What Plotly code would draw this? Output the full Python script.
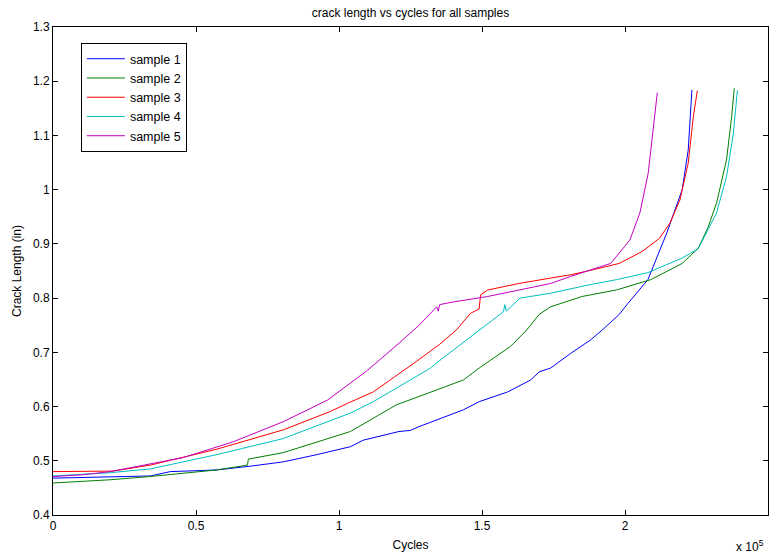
import plotly.graph_objects as go

# cycles (in units of 1e5) and crack length (in)
s1_x = [0, 0.2, 0.34, 0.41, 0.57, 0.69, 0.805, 0.92, 1.04, 1.085, 1.21, 1.25, 1.28, 1.435, 1.49, 1.59, 1.67, 1.70, 1.74, 1.81, 1.88, 1.92, 1.98, 2.01, 2.08, 2.146, 2.20, 2.221, 2.234]
s1_y = [0.468, 0.470, 0.472, 0.480, 0.483, 0.490, 0.498, 0.511, 0.526, 0.538, 0.554, 0.556, 0.563, 0.594, 0.609, 0.627, 0.649, 0.664, 0.671, 0.698, 0.723, 0.741, 0.77, 0.79, 0.834, 0.92, 1.0, 1.073, 1.184]

s2_x = [0, 0.2, 0.34, 0.57, 0.68, 0.683, 0.805, 1.04, 1.2, 1.435, 1.49, 1.60, 1.656, 1.70, 1.74, 1.85, 1.97, 2.09, 2.20, 2.256, 2.29, 2.32, 2.355, 2.373, 2.382]
s2_y = [0.459, 0.465, 0.471, 0.483, 0.492, 0.503, 0.515, 0.554, 0.603, 0.649, 0.671, 0.711, 0.741, 0.77, 0.784, 0.803, 0.815, 0.834, 0.864, 0.892, 0.93, 0.975, 1.055, 1.135, 1.187]

s3_x = [0, 0.21, 0.34, 0.57, 0.805, 0.97, 1.03, 1.12, 1.27, 1.35, 1.41, 1.46, 1.49, 1.495, 1.52, 1.63, 1.74, 1.81, 1.91, 1.98, 2.06, 2.12, 2.157, 2.192, 2.221, 2.239, 2.253]
s3_y = [0.480, 0.481, 0.492, 0.521, 0.557, 0.591, 0.606, 0.627, 0.683, 0.714, 0.741, 0.772, 0.78, 0.806, 0.815, 0.827, 0.837, 0.843, 0.855, 0.864, 0.886, 0.91, 0.938, 0.981, 1.049, 1.135, 1.183]

s4_x = [0, 0.2, 0.34, 0.57, 0.805, 0.97, 1.04, 1.12, 1.32, 1.34, 1.49, 1.575, 1.58, 1.585, 1.633, 1.74, 1.87, 1.97, 2.08, 2.20, 2.256, 2.32, 2.355, 2.379, 2.393]
s4_y = [0.472, 0.478, 0.485, 0.511, 0.541, 0.575, 0.588, 0.609, 0.671, 0.68, 0.741, 0.775, 0.788, 0.776, 0.80, 0.809, 0.824, 0.834, 0.847, 0.874, 0.891, 0.957, 1.024, 1.104, 1.183]

s5_x = [0, 0.1, 0.2, 0.34, 0.456, 0.63, 0.805, 0.96, 1.10, 1.21, 1.28, 1.342, 1.347, 1.352, 1.40, 1.52, 1.69, 1.74, 1.81, 1.91, 1.95, 2.017, 2.052, 2.081, 2.099, 2.113]
s5_y = [0.471, 0.474, 0.480, 0.494, 0.506, 0.535, 0.572, 0.612, 0.667, 0.717, 0.750, 0.784, 0.776, 0.788, 0.793, 0.803, 0.821, 0.827, 0.84, 0.858, 0.864, 0.907, 0.957, 1.03, 1.11, 1.179]

names = ["sample 1", "sample 2", "sample 3", "sample 4", "sample 5"]
colors = ["rgb(0,0,255)", "rgb(0,128,0)", "rgb(255,0,0)", "rgb(0,191,191)", "rgb(191,0,191)"]
xs = [s1_x, s2_x, s3_x, s4_x, s5_x]
ys = [s1_y, s2_y, s3_y, s4_y, s5_y]

x_ticks = [0, 0.5, 1, 1.5, 2, 2.5]
x_ticklabels = ["0", "0.5", "1", "1.5", "2", "2.5"]
y_ticks = [0.4, 0.5, 0.6, 0.7, 0.8, 0.9, 1.0, 1.1, 1.2, 1.3]
y_ticklabels = ["0.4", "0.5", "0.6", "0.7", "0.8", "0.9", "1", "1.1", "1.2", "1.3"]

FONT = "Arial, Liberation Sans, Helvetica, sans-serif"

fig = go.Figure()
for n, c, x, y in zip(names, colors, xs, ys):
    fig.add_trace(go.Scatter(x=[v * 1e5 for v in x], y=y, mode="lines", name=n,
                             line=dict(color=c, width=1)))

axis_common = dict(showgrid=False, zeroline=False, showline=True, linecolor="black",
                   linewidth=1, mirror="ticks", ticks="inside", ticklen=5,
                   tickcolor="black", tickfont=dict(family=FONT, size=12, color="black"))

fig.update_layout(
    width=776, height=560,
    margin=dict(l=53, r=8, t=27, b=45),
    paper_bgcolor="white", plot_bgcolor="white",
    font=dict(family=FONT, size=12, color="black"),
    title=dict(text="crack length vs cycles for all samples", x=0.529, xanchor="center",
               y=0.985, yanchor="top", font=dict(family=FONT, size=12, color="black")),
    xaxis=dict(range=[0, 2.5e5], tickvals=[v * 1e5 for v in x_ticks], ticktext=x_ticklabels,
               title=dict(text="Cycles", font=dict(family=FONT, size=12), standoff=8), **axis_common),
    yaxis=dict(range=[0.4, 1.3], tickvals=y_ticks, ticktext=y_ticklabels,
               title=dict(text="Crack Length (in)", font=dict(family=FONT, size=12), standoff=8), **axis_common),
    showlegend=True,
    legend=dict(x=0.039, y=0.967, xanchor="left", yanchor="top",
                bordercolor="black", borderwidth=1, bgcolor="white",
                font=dict(family=FONT, size=12.5, color="black"),
                tracegroupgap=0, itemwidth=38),
    annotations=[dict(text="x 10<sup>5</sup>", xref="paper", yref="paper", x=0.997, y=-0.043,
                      xanchor="right", yanchor="top", showarrow=False,
                      font=dict(family=FONT, size=12, color="black"))],
)

fig.write_html("out.html")
